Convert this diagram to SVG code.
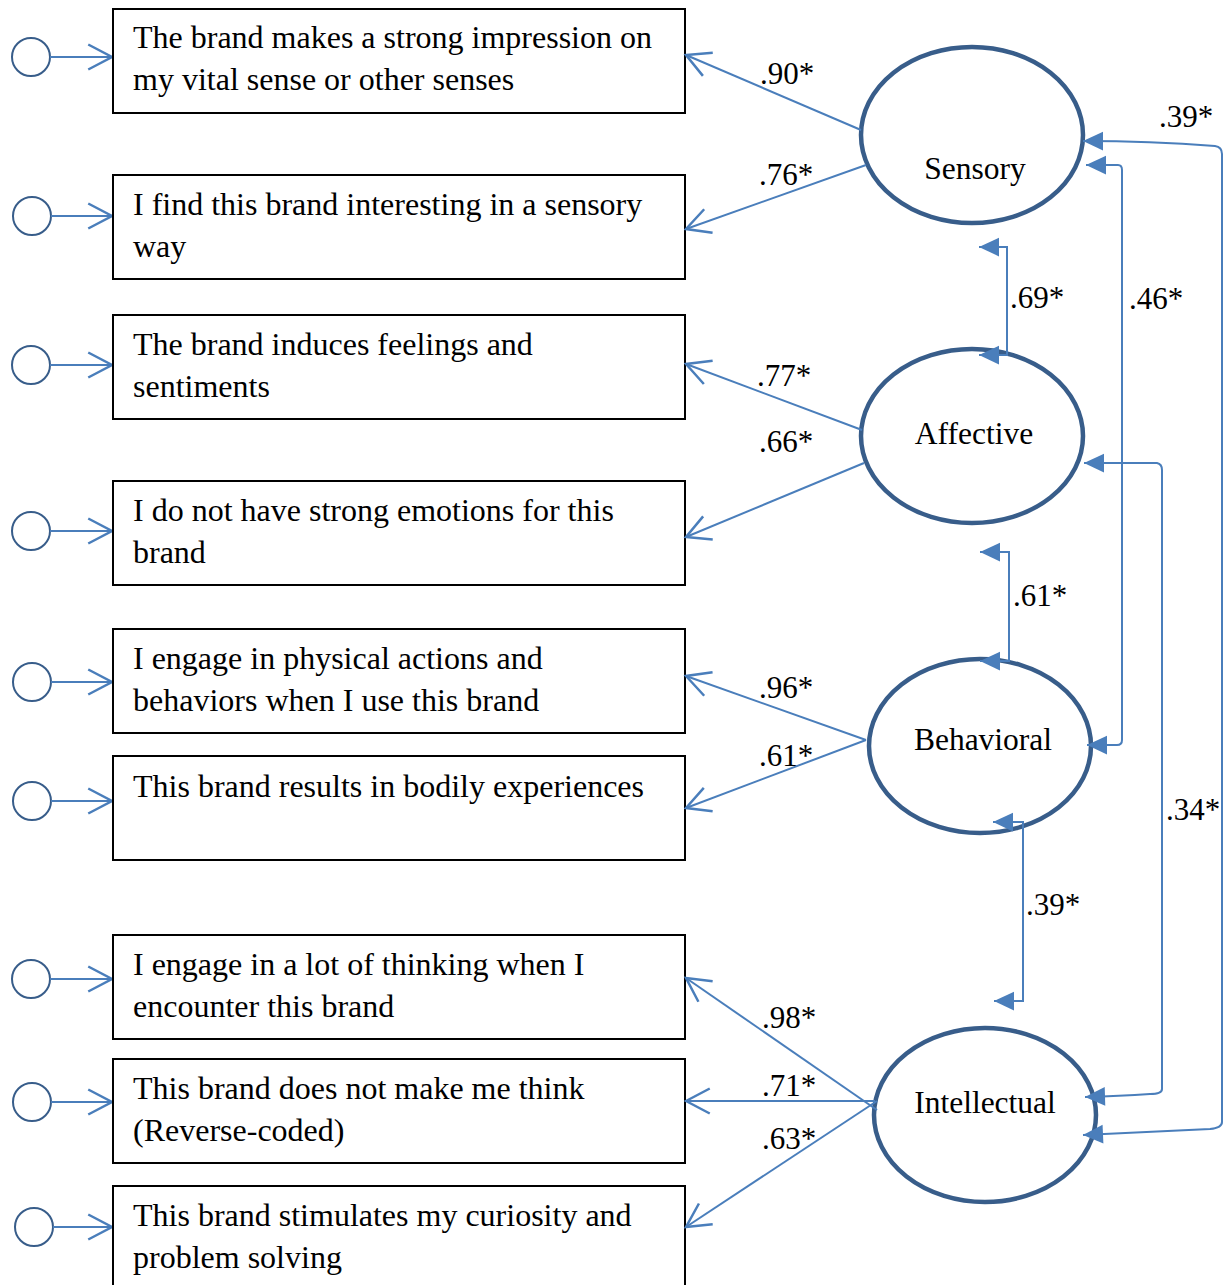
<svg xmlns="http://www.w3.org/2000/svg" width="1230" height="1285" viewBox="0 0 1230 1285">
<style>
.box{fill:#fff;stroke:#000;stroke-width:2}
.err{fill:none;stroke:#385D8A;stroke-width:2}
.lat{fill:none;stroke:#385D8A;stroke-width:4.5}
.ln{fill:none;stroke:#4A7EBB;stroke-width:2}
.ar{marker-end:url(#open)}
.cov{fill:none;stroke:#4A7EBB;stroke-width:2;marker-start:url(#tri);marker-end:url(#tri)}
text{font-family:"Liberation Serif","Times New Roman",serif;fill:#000}
.t{font-size:32px}
.n{font-size:31px}
.lab{font-size:31.5px;text-anchor:middle}
</style>
<defs>
<marker id="open" markerUnits="userSpaceOnUse" markerWidth="30" markerHeight="30" viewBox="-22 -12 24 24" refX="0" refY="0" orient="auto-start-reverse">
<path d="M-19,-10 L0,0 L-19,10" fill="none" stroke="#4A7EBB" stroke-width="2"/>
</marker>
<marker id="tri" markerUnits="userSpaceOnUse" markerWidth="30" markerHeight="30" viewBox="-22 -12 24 24" refX="0" refY="0" orient="auto-start-reverse">
<path d="M-16,-7.5 L0,0 L-16,7.5 Z" fill="#4A7EBB"/>
</marker>
</defs>

<g id="e1"><circle class="err" cx="31" cy="57" r="19"/><line class="ln ar" x1="50" y1="57" x2="112" y2="57"/></g>
<g id="e2"><circle class="err" cx="32" cy="216" r="19"/><line class="ln ar" x1="51" y1="216" x2="112" y2="216"/></g>
<g id="e3"><circle class="err" cx="31" cy="365" r="19"/><line class="ln ar" x1="50" y1="365" x2="112" y2="365"/></g>
<g id="e4"><circle class="err" cx="31" cy="531" r="19"/><line class="ln ar" x1="50" y1="531" x2="112" y2="531"/></g>
<g id="e5"><circle class="err" cx="32" cy="682" r="19"/><line class="ln ar" x1="51" y1="682" x2="112" y2="682"/></g>
<g id="e6"><circle class="err" cx="32" cy="801" r="19"/><line class="ln ar" x1="51" y1="801" x2="112" y2="801"/></g>
<g id="e7"><circle class="err" cx="31" cy="979" r="19"/><line class="ln ar" x1="50" y1="979" x2="112" y2="979"/></g>
<g id="e8"><circle class="err" cx="32" cy="1102" r="19"/><line class="ln ar" x1="51" y1="1102" x2="112" y2="1102"/></g>
<g id="e9"><circle class="err" cx="34" cy="1227" r="19"/><line class="ln ar" x1="53" y1="1227" x2="112" y2="1227"/></g>

<g id="b1"><rect class="box" x="113" y="9" width="572" height="104"/><text class="t" x="133" y="48">The brand makes a strong impression on</text><text class="t" x="133" y="90">my vital sense or other senses</text></g>
<g id="b2"><rect class="box" x="113" y="175" width="572" height="104"/><text class="t" x="133" y="215">I find this brand interesting in a sensory</text><text class="t" x="133" y="257">way</text></g>
<g id="b3"><rect class="box" x="113" y="315" width="572" height="104"/><text class="t" x="133" y="355">The brand induces feelings and</text><text class="t" x="133" y="397">sentiments</text></g>
<g id="b4"><rect class="box" x="113" y="481" width="572" height="104"/><text class="t" x="133" y="521">I do not have strong emotions for this</text><text class="t" x="133" y="563">brand</text></g>
<g id="b5"><rect class="box" x="113" y="629" width="572" height="104"/><text class="t" x="133" y="669">I engage in physical actions and</text><text class="t" x="133" y="711">behaviors when I use this brand</text></g>
<g id="b6"><rect class="box" x="113" y="756" width="572" height="104"/><text class="t" x="133" y="797">This brand results in bodily experiences</text></g>
<g id="b7"><rect class="box" x="113" y="935" width="572" height="104"/><text class="t" x="133" y="975">I engage in a lot of thinking when I</text><text class="t" x="133" y="1017">encounter this brand</text></g>
<g id="b8"><rect class="box" x="113" y="1059" width="572" height="104"/><text class="t" x="133" y="1099">This brand does not make me think</text><text class="t" x="133" y="1141">(Reverse-coded)</text></g>
<g id="b9"><rect class="box" x="113" y="1186" width="572" height="110"/><text class="t" x="133" y="1226">This brand stimulates my curiosity and</text><text class="t" x="133" y="1268">problem solving</text></g>

<g id="sensory"><ellipse class="lat" cx="972" cy="135" rx="111" ry="88"/><text class="lab" x="975" y="179">Sensory</text></g>
<g id="affective"><ellipse class="lat" cx="972" cy="436" rx="111" ry="87"/><text class="lab" x="974" y="444">Affective</text></g>
<g id="behavioral"><ellipse class="lat" cx="980" cy="746" rx="111" ry="87"/><text class="lab" x="983" y="750">Behavioral</text></g>
<g id="intellectual"><ellipse class="lat" cx="985" cy="1115" rx="111" ry="87"/><text class="lab" x="985" y="1113">Intellectual</text></g>

<g id="connectors">
<line class="ln ar" x1="861" y1="130" x2="686" y2="55"/>
<line class="ln ar" x1="866" y1="165" x2="686" y2="229"/>
<line class="ln ar" x1="862" y1="430" x2="686" y2="364"/>
<line class="ln ar" x1="864" y1="463" x2="686" y2="537"/>
<line class="ln ar" x1="866" y1="740" x2="686" y2="676"/>
<line class="ln ar" x1="866" y1="740" x2="686" y2="808"/>
<line class="ln ar" x1="877" y1="1110" x2="686" y2="978"/>
<line class="ln ar" x1="875" y1="1101" x2="686" y2="1101"/>
<line class="ln ar" x1="877" y1="1101" x2="686" y2="1227"/>

<path class="cov" d="M979,247 H1007 V355 H979"/>
<path class="cov" d="M980,552 H1009 V661 H980"/>
<path class="cov" d="M993,822 H1023 V1001 H994"/>
<path class="cov" d="M1086,165 H1118 Q1122,165 1122,170 V740 Q1122,745 1117,745 H1087"/>
<path class="cov" d="M1084,463 H1157 Q1162,464 1162,470 V1089 Q1162,1094 1150,1094 Q1120,1096 1085,1097"/>
<path class="cov" d="M1083,141 Q1150,141 1215,146 Q1222,147 1222,154 V1122 Q1222,1128 1210,1129 Q1150,1132 1083,1135"/>

<text class="n" x="787" y="84" text-anchor="middle">.90*</text>
<text class="n" x="786" y="185" text-anchor="middle">.76*</text>
<text class="n" x="784" y="386" text-anchor="middle">.77*</text>
<text class="n" x="786" y="452" text-anchor="middle">.66*</text>
<text class="n" x="786" y="698" text-anchor="middle">.96*</text>
<text class="n" x="786" y="766" text-anchor="middle">.61*</text>
<text class="n" x="789" y="1028" text-anchor="middle">.98*</text>
<text class="n" x="789" y="1096" text-anchor="middle">.71*</text>
<text class="n" x="789" y="1149" text-anchor="middle">.63*</text>
<text class="n" x="1037" y="308" text-anchor="middle">.69*</text>
<text class="n" x="1040" y="606" text-anchor="middle">.61*</text>
<text class="n" x="1053" y="915" text-anchor="middle">.39*</text>
<text class="n" x="1156" y="309" text-anchor="middle">.46*</text>
<text class="n" x="1193" y="820" text-anchor="middle">.34*</text>
<text class="n" x="1186" y="127" text-anchor="middle">.39*</text>
</g>
</svg>
